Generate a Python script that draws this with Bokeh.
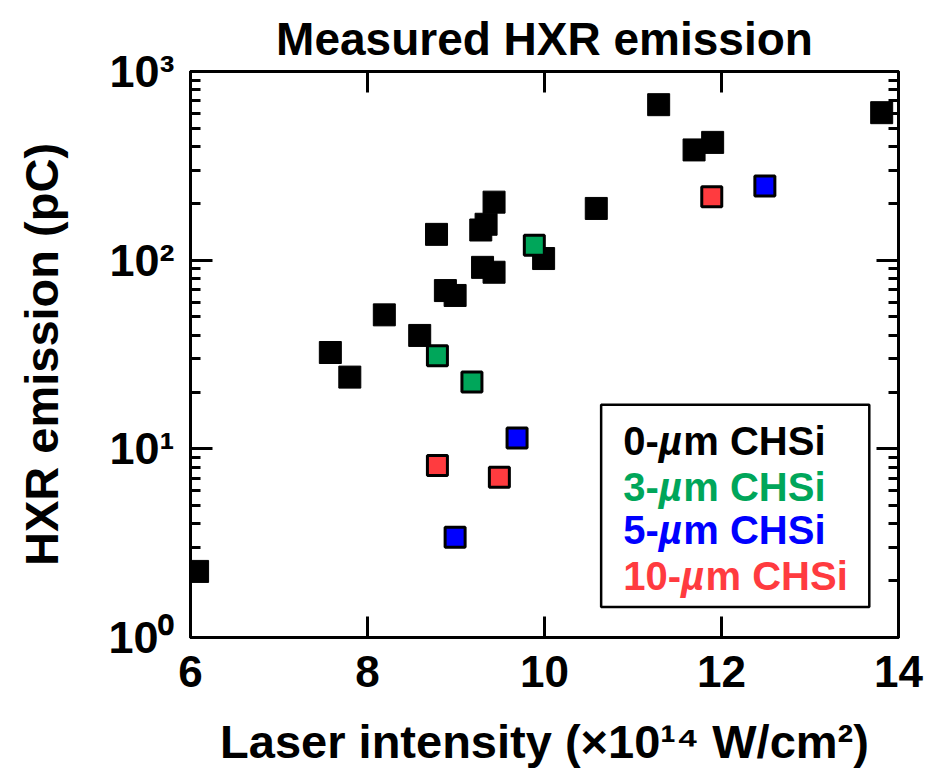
from bokeh.plotting import figure
from bokeh.models import (LinearAxis, LogAxis, FixedTicker, LogTicker, CustomJSTickFormatter,
                          BoxAnnotation, Label, Range1d)
from bokeh.embed import file_html
from bokeh.resources import INLINE

# ---- data ----
black_x = [6.08, 7.58, 7.80, 8.19, 8.59, 8.78, 8.88, 8.99, 9.28, 9.34, 9.43, 9.30, 9.43, 9.99,
           10.585, 11.29, 11.69, 11.90, 13.81]
black_y = [2.24, 32.4, 24.0, 51.3, 39.9, 137, 69.0, 65.0, 144.5, 155, 203, 91.6, 86.3, 102,
           188, 667, 384, 421, 605]
green_x = [8.79, 9.18, 9.885]
green_y = [31.1, 22.6, 120]
blue_x = [8.99, 9.69, 12.49]
blue_y = [3.40, 11.4, 247]
red_x = [8.79, 9.49, 11.89]
red_y = [8.15, 7.08, 217]

x_ticks = [6, 8, 10, 12, 14]
legend_thickness = ["0-", "3-", "5-", "10-"]
legend_colors = ["#000000", "#00A65A", "#0000FF", "#FF3B3F"]
title_text = "Measured HXR emission"

FONT = "Liberation Sans"

p = figure(width=926, height=770, y_axis_type="log",
           x_range=Range1d(6, 14), y_range=Range1d(1, 1000),
           output_backend="svg", toolbar_location=None,
           min_border_left=190, min_border_right=28, min_border_top=71, min_border_bottom=128,
           title=title_text)
p.background_fill_color = "white"
p.border_fill_color = "white"
p.outline_line_color = "black"
p.outline_line_width = 3
p.xgrid.visible = False
p.ygrid.visible = False

p.title.align = "center"
p.title.vertical_align = "middle"
p.title.text_font = FONT
p.title.text_font_style = "bold"
p.title.text_font_size = "46px"
p.title.text_color = "black"
p.title.standoff = 12

def style_x(ax, show):
    ax.ticker = FixedTicker(ticks=x_ticks)
    ax.major_tick_in = 21
    ax.major_tick_out = 0
    ax.minor_tick_line_color = None
    ax.major_tick_line_width = 3
    ax.axis_line_width = 3
    ax.axis_line_color = "black"
    ax.major_tick_line_color = "black"
    ax.major_label_text_font = FONT
    ax.major_label_text_font_style = "bold"
    if show:
        ax.major_label_text_font_size = "44px"
        ax.major_label_text_color = "black"
        ax.major_label_standoff = 18
    else:
        ax.major_label_text_font_size = "2px"
        ax.major_label_text_color = None
        ax.major_label_standoff = 0

def style_y(ax, show):
    ax.ticker = LogTicker(num_minor_ticks=10)
    ax.major_tick_in = 22
    ax.major_tick_out = 0
    ax.minor_tick_in = 10
    ax.minor_tick_out = 0
    ax.major_tick_line_width = 3
    ax.minor_tick_line_width = 3
    ax.axis_line_width = 3
    ax.axis_line_color = "black"
    ax.major_tick_line_color = "black"
    ax.minor_tick_line_color = "black"
    ax.major_label_text_font = FONT
    ax.major_label_text_font_style = "bold"
    if show:
        ax.major_label_text_font_size = "45px"
        ax.major_label_text_color = "black"
        ax.major_label_standoff = 16
        ax.formatter = CustomJSTickFormatter(code="""
            const sup = {"0": "\u2070", "1": "\u00b9", "2": "\u00b2", "3": "\u00b3"};
            const e = Math.round(Math.log10(tick));
            return "10" + sup[String(e)];
        """)
    else:
        ax.major_label_text_font_size = "2px"
        ax.major_label_text_color = None
        ax.major_label_standoff = 0

style_x(p.xaxis[0], True)
style_y(p.yaxis[0], True)

p.xaxis[0].axis_label = "Laser intensity (\u00d710\u00b9\u2074 W/cm\u00b2)"
p.xaxis[0].axis_label_text_font = FONT
p.xaxis[0].axis_label_text_font_style = "bold"
p.xaxis[0].axis_label_text_font_size = "47px"
p.xaxis[0].axis_label_text_color = "black"
p.xaxis[0].axis_label_standoff = 25

p.yaxis[0].axis_label = "HXR emission (pC)"
p.yaxis[0].axis_label_text_font = FONT
p.yaxis[0].axis_label_text_font_style = "bold"
p.yaxis[0].axis_label_text_font_size = "47px"
p.yaxis[0].axis_label_text_color = "black"
p.yaxis[0].axis_label_standoff = 37

top = LinearAxis()
style_x(top, False)
p.add_layout(top, "above")
right = LogAxis()
style_y(right, False)
p.add_layout(right, "right")

# ---- markers ----
p.scatter(black_x, black_y, marker="square", size=22, fill_color="black", line_color="black", line_width=1)
for xs, ys, col in [(green_x, green_y, legend_colors[1]), (blue_x, blue_y, legend_colors[2]),
                    (red_x, red_y, legend_colors[3])]:
    p.scatter(xs, ys, marker="square", size=20, fill_color=col, line_color="black", line_width=3)

# ---- legend box ----
p.add_layout(BoxAnnotation(left=10.64, right=13.67, top=17.1, bottom=1.45,
                           fill_color="white", fill_alpha=1.0, line_color="black",
                           line_alpha=1.0, line_width=2.5))
fs = 40
w_digit = 0.556
w_dash = 0.333
w_mu = 0.611
legend_y = [11.0, 6.3, 3.72, 2.12]
for t, c, yy in zip(legend_thickness, legend_colors, legend_y):
    w1 = (w_digit * (len(t) - 1) + w_dash) * fs
    common = dict(x=10.89, y=yy, text_baseline="middle", text_color=c, text_font=FONT,
                  text_font_size=f"{fs}px")
    p.add_layout(Label(text=t, x_offset=0, text_font_style="bold", **common))
    p.add_layout(Label(text="\u00b5", x_offset=w1, text_font_style="bold italic", **common))
    p.add_layout(Label(text="m CHSi", x_offset=w1 + w_mu * fs, text_font_style="bold", **common))

open("out.html", "w").write(file_html(p, INLINE))
